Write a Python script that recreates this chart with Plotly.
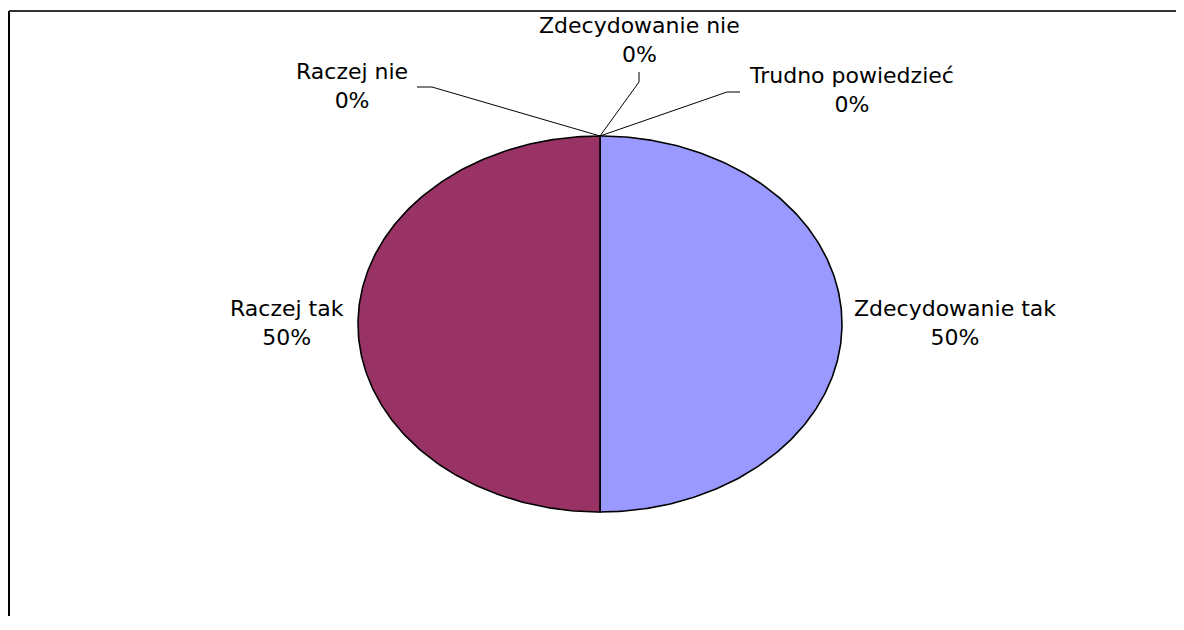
import numpy as np
import plotly.graph_objects as go

# ---- data ----
categories = ["Zdecydowanie tak", "Raczej tak", "Raczej nie", "Zdecydowanie nie", "Trudno powiedzieć"]
values = [50, 50, 0, 0, 0]
colors = ["#9999FF", "#993366", "#FFFFCC", "#CCFFFF", "#660066"]

# ---- layout constants (page pixel space; the page body has an 8px margin) ----
PAGE_W, PAGE_H = 1184, 630
BODY = 8
W, H = PAGE_W - BODY, PAGE_H - 2 * BODY - 6
CX, CY, RX, RY = 600, 324, 242, 188
FONT = dict(family="DejaVu Sans", size=22, color="#000000")

# label block centres and leader-line elbows (per category)
label_pos = {
    "Zdecydowanie tak": (955, 323),
    "Raczej tak": (287, 323),
    "Raczej nie": (352, 86),
    "Zdecydowanie nie": (639, 40),
    "Trudno powiedzieć": (851, 90),
}
leaders = {
    "Raczej nie": [(417, 87), (432, 87)],
    "Zdecydowanie nie": [(639, 72), (639, 82)],
    "Trudno powiedzieć": [(740, 92), (727, 92)],
}

fig = go.Figure()
total = float(sum(values))
fracs = np.array(values, dtype=float) / total
starts = np.concatenate([[0.0], np.cumsum(fracs)[:-1]])

def ell(a):
    return CX + RX * np.sin(a), CY - RY * np.cos(a)

for cat, f, s, col in zip(categories, fracs, starts, colors):
    if f <= 0:
        continue
    a = np.linspace(2 * np.pi * s, 2 * np.pi * (s + f), 240)
    ex, ey = ell(a)
    xs = np.concatenate([[CX], ex, [CX]])
    ys = np.concatenate([[CY], ey, [CY]])
    fig.add_trace(go.Scatter(x=xs, y=ys, mode="lines", fill="toself",
                             fillcolor=col, line=dict(color="#000000", width=1.6),
                             hoverinfo="skip", showlegend=False))

for cat, f, s, v in zip(categories, fracs, starts, values):
    mid = 2 * np.pi * (s + f / 2)
    px, py = ell(mid)
    if cat in leaders:
        pts = leaders[cat]
        xs = [pts[0][0], pts[1][0], px]
        ys = [pts[0][1], pts[1][1], py]
        fig.add_trace(go.Scatter(x=xs, y=ys, mode="lines",
                                 line=dict(color="#000000", width=1),
                                 hoverinfo="skip", showlegend=False))
    lx, ly = label_pos[cat]
    fig.add_annotation(x=lx, y=ly, xref="x", yref="y",
                       text=f"{cat}<br>{round(v / total * 100)}%",
                       showarrow=False, font=FONT, align="center",
                       xanchor="center", yanchor="middle")

# chart frame (left and top edges visible)
fig.add_shape(type="line", xref="x", yref="y", x0=9, y0=11, x1=9, y1=BODY + H,
              line=dict(color="#000000", width=2))
fig.add_shape(type="line", xref="x", yref="y", x0=9, y0=11, x1=BODY + W, y1=11,
              line=dict(color="#333333", width=2))

fig.update_layout(
    width=W, height=H, autosize=False,
    margin=dict(l=0, r=0, t=0, b=0, pad=0),
    paper_bgcolor="white", plot_bgcolor="white",
    xaxis=dict(range=[BODY, BODY + W], visible=False, fixedrange=True),
    yaxis=dict(range=[BODY + H, BODY], visible=False, fixedrange=True),
    showlegend=False,
)

fig.write_html("out.html", config={"displayModeBar": False})
